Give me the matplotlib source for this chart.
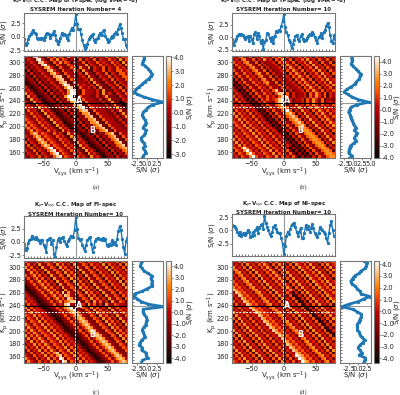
import numpy as np
import matplotlib
matplotlib.use("Agg")
import matplotlib.pyplot as plt
from matplotlib.ticker import MultipleLocator, FormatStrFormatter

W, H = 400, 395
VSYS_RANGE = (-80, 80)
KP_RANGE = (150, 310)

titles = [
    "K$_{\\rm p}$-V$_{\\rm sys}$ C.C. Map of H-spec (log VMR= -8)\nSYSREM Iteration Number= 4",
    "K$_{\\rm p}$-V$_{\\rm sys}$ C.C. Map of H-spec (log VMR= -8)\nSYSREM Iteration Number= 10",
    "K$_{\\rm p}$-V$_{\\rm sys}$ C.C. Map of FI-spec\nSYSREM Iteration Number= 10",
    "K$_{\\rm p}$-V$_{\\rm sys}$ C.C. Map of NI-spec\nSYSREM Iteration Number= 10",
]
captions = ["(a)", "(b)", "(c)", "(d)"]

# S/N slice at the Kp of the peak, Vsys from -80 to 80 (estimated by eye, 2 km/s spacing is approximate)
top_a = [-0.5,-1.5,-1.2,-0.5,0.2,0.5,0.9,1.2,0.8,0.5,-0.2,-0.5,-0.3,-0.4,-0.2,-0.6,0.0,0.6,0.7,0.5,-0.2,0.3,0.6,1.0,0.3,-0.6,-1.4,-0.8,-0.3,0.7,0.3,0.6,0.3,-0.3,-0.6,0.5,1.2,1.6,1.2,2.4,4.2,2.4,1.4,1.5,0.5,-0.6,-1.5,-2.3,-2.0,-1.3,-0.5,0.0,0.2,0.5,-0.6,-1.0,-0.5,-0.2,0.3,0.8,0.4,1.1,1.2,0.2,-0.5,-1.0,-0.8,-0.3,0.2,0.0,0.5,0.9,0.6,1.5,2.3,1.6,0.7,-0.5,-0.5,-1.6,-2.0]
top_b = [-0.3,-1.5,-0.8,-0.3,0.3,0.6,0.5,0.6,0.4,0.0,-0.3,0.0,0.2,-0.8,0.3,-0.3,-1.2,0.7,1.0,-0.3,0.8,0.2,-1.2,-0.5,-2.3,-1.0,-0.5,0.8,0.6,-0.1,-0.8,0.0,-1.2,0.3,1.2,1.0,1.5,1.3,2.2,3.2,4.6,2.0,1.0,0.5,-0.6,-1.0,-2.2,-1.4,-0.5,0.2,0.5,-0.3,-0.8,0.2,0.7,-0.3,-0.8,-0.5,-0.1,0.3,0.7,0.5,1.0,0.6,0.0,-0.6,-1.1,0.0,0.3,0.8,-0.1,1.0,1.5,2.2,2.9,2.0,0.5,-0.8,-1.2,0.5,-0.4]
top_c = [-0.3,-1.5,-1.2,-0.2,0.3,0.5,1.2,0.7,0.6,1.0,0.6,0.4,-0.2,0.3,0.4,-0.5,-1.0,-1.8,0.3,0.6,0.8,-0.3,0.3,-2.2,-2.8,-1.0,0.4,0.8,0.0,0.7,1.0,0.2,-0.3,-0.8,0.2,0.5,1.2,1.0,1.0,2.3,4.6,2.5,0.8,0.3,0.5,-0.5,-1.2,-1.6,-0.5,0.3,0.7,0.9,-0.3,-1.8,-1.0,0.2,0.6,0.8,0.6,0.6,0.3,0.8,0.4,0.5,-0.5,-0.8,-0.3,-0.5,0.3,-0.3,0.0,-0.5,0.6,2.0,2.9,2.2,0.6,-1.0,-2.2,0.2,0.8]
top_d = [1.0,0.8,0.6,0.2,-0.3,-0.8,-0.3,-1.0,-0.6,-0.4,-0.8,-0.5,0.1,-0.3,-1.2,-1.0,-0.3,-0.8,0.0,0.6,-0.4,0.5,1.0,1.2,0.3,2.7,1.5,0.7,0.0,-0.7,-1.0,-0.2,0.7,1.0,0.2,-0.3,-0.5,-0.4,-1.5,-2.5,-4.5,-3.0,-1.0,-0.2,-0.6,0.2,1.1,1.3,1.5,0.6,-0.3,-1.0,-0.2,0.5,-1.4,-1.5,-0.4,1.0,0.2,0.8,-0.2,0.4,1.2,0.4,-0.5,-0.8,-1.2,-0.5,0.6,0.3,0.0,-0.2,-0.6,-1.5,-2.3,-0.5,1.0,1.8,0.0,-1.0,-1.0]

# S/N slice at Vsys of the peak, Kp from 310 down to 150 (estimated by eye)
side_a = [-0.8,-0.7,-1.0,-1.2,-0.4,0.3,0.8,1.3,1.0,0.4,-0.5,-1.2,-2.0,-2.8,-3.3,-2.5,-0.8,1.4,4.1,1.5,0.3,-0.3,-1.0,-1.2,-1.0,-0.5,-0.2,-0.6,-1.0,-0.3,-0.4,-0.8,-1.5,-1.4,-0.8,-0.5,-1.0,-0.5,-0.3,-1.0,-1.2]
side_b = [-0.3,-0.4,-0.2,-0.5,0.0,0.8,1.5,2.2,2.0,1.8,1.0,0.5,-0.5,-1.8,-2.6,-1.5,-0.3,1.5,4.5,1.2,-0.6,-1.0,-1.3,-0.8,-0.7,-0.4,0.0,0.3,0.9,0.4,1.1,0.8,0.4,0.9,0.3,-0.7,-1.0,-1.2,-1.2,-0.2,-1.1]
side_c = [-1.3,-1.5,-1.7,-1.3,-0.8,0.3,1.3,1.0,1.4,1.2,1.3,0.0,-1.3,-3.2,-3.3,-2.5,-1.5,0.3,4.3,-1.0,-1.0,-0.8,-0.2,0.0,-0.2,-0.3,-0.8,-1.2,-1.0,-0.7,-0.5,-1.3,-1.8,-2.0,-1.2,-1.4,-0.3,-0.2,0.2,-1.2,-1.5]
side_d = [1.5,2.4,2.2,2.0,0.8,0.2,-1.0,-1.5,-2.0,-1.8,-0.8,-0.2,0.5,0.8,3.2,1.5,0.0,-2.5,-4.5,-1.5,-0.2,0.9,0.8,0.5,0.2,-0.3,-0.2,-0.2,0.3,0.5,1.0,1.8,1.3,0.5,0.0,0.5,1.0,0.3,2.0,1.8,1.5]

# Kp-Vsys maps, hand-typed, 0 = darkest ... 9 = brightest, top row is Kp 310.
# Only the main bright and dark streaks were placed from the picture. The remaining
# cells are hand-typed diagonal texture imitating the look, NOT values read cell by cell.
map_a = [
"543895326473652743625436254364527365",
"354389532647365244362543625436452736",
"435438853264736524436254364543645273",
"243543895326433652443725436454364527",
"524354378532643365274372543625436452",
"152435437853264436527432543625436645",
"415243543785326443452743254362543664",
"341524354378832644345274325436254366",
"234152435437883264434527432543625436",
"123415243543788326444352743254362543",
"312341524354379832645435274325436254",
"531234152435437983264453527332543625",
"453123415243543798326444352733254362",
"745312341524354799326444352735325436",
"274531234152437993264443352473332543",
"327453123415243799326444335247333254",
"532745312341524378932644433524733025",
"453274531234152437893264443352473302",
"645327453123415243789326444335247330",
"364532745312341524378832644433524733",
"436453274531234152437783264443352473",
"543645327453123415243778326444335247",
"654364532745312341524377832644433524",
"465436453274531234152437783264443352",
"746543645327453123415243678326444335",
"574654364532745312341524367832644433",
"357465436453274531234152436783264443",
"436874654364532745312341524367832644",
"543687465436453274531234152436783264",
"254368746543645327453123415243678326",
"625436874654364532745312341524367832",
"362543687465436453274531234152436783",
"436254368946543645327453123415243678",
"543625436894654364532745312341524367",
"354362543689465436453274531234152436",
"435436254368946543645327453123415243",
]
map_b = [
"536743625374526475362546374526436254",
"453674362537452647536254637452643625",
"645367436253445264753625463745264362",
"364536743625344526475362546374526436",
"436453674362534452647536254637452643",
"643645367436253445264753625463745264",
"264364536743625344526475362546374526",
"526436453674362534452647536254637452",
"152643645367436253445264753625463745",
"315264364536743625344526475362546374",
"131526436453644362534452647536254637",
"413152643645364436253445264753625463",
"541315264364536843625344526475362546",
"354131526436453688362534452647536254",
"635413152643645368962534452647536254",
"363541315264645689625344526475362443",
"536354131526443689625344526475362454",
"453635413152643679625374526475364536",
"645363541315264367962537452647536453",
"364536354131526436796253745264753645",
"736453635413152643678625374526475364",
"473645363541315264367862537452647536",
"547364536354131526436786253745264753",
"654736453635413152643678625374526475",
"365473645363541315264367862537452647",
"536547364536354131526436776253745264",
"453654736453635413152643677625374526",
"645365473645363541315264367762537452",
"364536547364536354131526436776253745",
"736453654736453635413152643677625374",
"473645365473645363541315264367762537",
"547364536547364536354131526436776253",
"654796453654736453631413152643677625",
"365479645365473645363141315264367762",
"536547964536547364536314131526436776",
"453654796453654736453631413152643677",
]
map_c = [
"635274365274635274365264537264536274",
"463527436527463527436526453726453627",
"746352743652746352743652645372645362",
"474635274365274635274365264537264536",
"347463527436527463527436526453726453",
"635746352743652746352743652645372645",
"463574635274365274635274365264537264",
"346357463527436527463527436526453726",
"234635746352743652746352743652645372",
"123463574635274365274635274365264537",
"212346357463327436527463527436526453",
"421234635746383743652746352743652645",
"542123463574638743365274635274365264",
"454212346357463874336527463527436526",
"645421234635746788433652746352743652",
"364542123463548943365274635274365443",
"736454212346357894336527463527436454",
"473645421234635789433652746352743645",
"547364542123463578743365274635274364",
"654736454212346357874336527463527436",
"365473645421234635787433652746352743",
"536547364542123463578743365274635274",
"753654736454212346357874336527463527",
"475365473645421234635787433652746352",
"647536547364542123463578743365274635",
"364753654736454212346357874336527463",
"736475365473645421234635787433652746",
"473647536547364542123463578743365274",
"547364753654736454212346357874336527",
"354736475365473645421234635787433652",
"635473647536547364542123463578743365",
"363547364753654736454212346357874336",
"436354736478365473645421234635787433",
"543635473647836547364542123463578743",
"754363547364983654736454212346357874",
"475436354736498365473645421234635787",
]
map_d = [
"536274536475263745362754637452637456",
"453627453647526374536275463745263745",
"745362745364752637453627546374526374",
"674536274536475263745362754637452637",
"367453627453647526374536275463745263",
"536745362745364752637453627546374526",
"453674536274536475263745362754637452",
"645367453627453647526374536275463745",
"564536745362745364752637453627546374",
"756453674536274536475263745362754637",
"875645367453627453647526374536275463",
"487564536745362745364252637453627546",
"548756453674536274536125263745362754",
"354875645367453627453612526374536275",
"635487564536745362745361252637453627",
"363548756453674536274536125263745362",
"536354875645367453627453612526374536",
"453635487564536745362745361252637453",
"745363548756453674536274536125263745",
"374536354875645367453627453612526374",
"637453635487564536745362745361252637",
"263745363548756453674536274536125263",
"526374536354875645367453627453612526",
"452637453635487564536745362745361252",
"745263745363548756453674536274536125",
"274526374536354875645367453627453612",
"627452637453635487564536745362745361",
"362745263745363548756453674536274536",
"536274526374536354875645367453627453",
"453627452637453635487564536745362745",
"745362745263745363548756453674536274",
"374536274526374536354875645367453627",
"637453627452637453635487564536745362",
"463745362745263745363598756453674536",
"546374536274526374536359875645367453",
"654637453627452637453635987564536745",
]

# S/N ranges
cbar_limits = [(-3.3, 4.1), (-4.05, 4.5), (-4.4, 4.5), (-4.4, 4.3)]
top_limits = [(-2.6, 4.5), (-2.7, 4.9), (-2.9, 4.8), (-4.7, 3.1)]
side_limits = [(-3.8, 4.2), (-3.7, 5.3), (-3.8, 4.2), (-4.9, 3.6)]
peak_kp = [236, 236, 238.5, 239]
dash_kp = [230.5, 230, 230, 230]
peak_v = [-2.5, -1.5, -2, -1.5]
label_a = [(4.6, 240), (4.6, 240), (4.6, 240), (4.6, 240)]
label_b = [(25, 194), (25, 194), (25, 195), (25, 195)]
tops = [top_a, top_b, top_c, top_d]
sides = [side_a, side_b, side_c, side_d]
maps = [map_a, map_b, map_c, map_d]

# pixel boxes: top panel, map, side panel, colour bar
dx = [0, 208, 0, 208]
top_y = [(12.7, 50.7), (12.7, 51), (216.3, 257.5), (214, 255.5)]
main_y = [(56, 158.5), (56, 158.5), (260.7, 363), (260.7, 363)]
title_y = [12.3, 12.3, 216.5, 215.5]
cap_y = [187.5, 187.5, 392, 392]
cbar_label_x = [190, 397, 190, 397]

fig = plt.figure(figsize=(W / 100, H / 100), dpi=100)
SP = "#777777"
BLUE = "#1f77b4"
FS = 4.8
LFS = 5.0


def box(x0, y0, x1, y1):
    return fig.add_axes([x0 / W, 1 - y1 / H, (x1 - x0) / W, (y1 - y0) / H])


def dress(ax):
    for s in ax.spines.values():
        s.set_color(SP)
        s.set_linewidth(0.8)
    ax.tick_params(labelsize=FS, length=1.5, width=0.4, pad=0.6, color="#333333", labelcolor="#222222")


def ylabel_at(ax, text, x_px, x0, x1):
    ax.set_ylabel(text, fontsize=LFS, color="#222222", va="center")
    ax.yaxis.set_label_coords((x_px - x0) / (x1 - x0), 0.5)


def xlabel_at(ax, text, dy_px, y0, y1):
    ax.set_xlabel(text, fontsize=LFS, color="#222222", va="center")
    ax.xaxis.set_label_coords(0.5, -dy_px / (y1 - y0))


for i in range(4):
    d = dx[i]
    t0, t1 = top_y[i]
    m0, m1 = main_y[i]
    vmin, vmax = cbar_limits[i]
    lx0, lx1 = 24.3 + d, 127.3 + d

    # top slice
    ax = box(lx0, t0, lx1, t1)
    y = np.array(tops[i])
    x = np.linspace(VSYS_RANGE[0], VSYS_RANGE[1], len(y))
    ax.axvline(0, color="#999999", lw=0.8)
    ax.plot(x, y, "-o", color=BLUE, lw=1.0, ms=2.4, mew=0)
    ax.set_xlim(*VSYS_RANGE)
    ax.set_ylim(*top_limits[i])
    ax.yaxis.set_major_locator(MultipleLocator(2.5))
    ax.yaxis.set_major_formatter(FormatStrFormatter("%.1f"))
    ax.xaxis.set_minor_locator(MultipleLocator(5))
    ax.set_xticks([-50, 0, 50])
    ax.set_xticklabels([])
    dress(ax)
    ax.tick_params(axis="x", which="both", direction="in", length=1.2, width=0.4)
    ylabel_at(ax, "S/N ($\\sigma$)", 4 + d, lx0, lx1)
    fig.text((75.8 + d) / W, 1 - title_y[i] / H, titles[i], ha="center", va="bottom",
             fontsize=4.0, fontweight="bold", linespacing=1.05, color="#222222")

    # map
    ax = box(lx0, m0, lx1, m1)
    rows = maps[i]
    n_cols = min(len(r) for r in rows)
    grid = np.array([[int(c) for c in row[:n_cols]] for row in rows], dtype=float)
    data = vmin + (vmax - vmin) * grid / 9.0
    im = ax.imshow(data, cmap="gist_heat", vmin=vmin, vmax=vmax, aspect="auto",
                   extent=[*VSYS_RANGE, *KP_RANGE], interpolation="nearest")
    ax.axvline(0, color="black", lw=0.7)
    ax.axhline(peak_kp[i], color="black", lw=0.8)
    ax.axvline(peak_v[i], color="white", lw=0.7, ls=(0, (2, 1.5)))
    ax.axhline(dash_kp[i], color="white", lw=0.7, ls=(0, (2, 1.5)))
    ax.text(*label_a[i], "A", color="white", fontsize=5.8, fontweight="bold", ha="center", va="center")
    ax.text(*label_b[i], "B", color="white", fontsize=5.8, fontweight="bold", ha="center", va="center")
    ax.set_xlim(*VSYS_RANGE)
    ax.set_ylim(*KP_RANGE)
    ax.set_xticks([-50, 0, 50])
    ax.set_yticks(range(160, 301, 20))
    dress(ax)
    xlabel_at(ax, "V$_{\\rm sys}$ (km s$^{-1}$)", 13.5, m0, m1)
    ylabel_at(ax, "K$_{\\rm p}$ (km s$^{-1}$)", 4.5 + d, lx0, lx1)

    # side slice
    ax = box(132.3 + d, m0, 163.3 + d, m1)
    y = np.array(sides[i])
    kp = np.linspace(KP_RANGE[1], KP_RANGE[0], len(y))
    ax.axhline(peak_kp[i], color="#999999", lw=0.8)
    ax.plot(y, kp, "-o", color=BLUE, lw=2.0, ms=2.4, mew=0)
    ax.set_xlim(*side_limits[i])
    ax.set_ylim(*KP_RANGE)
    ax.xaxis.set_major_locator(MultipleLocator(2.5))
    ax.xaxis.set_major_formatter(FormatStrFormatter("%.1f"))
    ax.yaxis.set_minor_locator(MultipleLocator(5))
    ax.set_yticks(range(160, 301, 20))
    ax.set_yticklabels([])
    dress(ax)
    ax.tick_params(axis="y", which="both", direction="in", length=1.2, width=0.4)
    xlabel_at(ax, "S/N ($\\sigma$)", 12, m0, m1)

    # colour bar
    cx0, cx1 = 165.6 + d, 171.2 + d
    cax = box(cx0, m0, cx1, m1)
    cb = fig.colorbar(im, cax=cax)
    cb.set_ticks(np.arange(np.ceil(vmin), vmax + 0.01, 1.0))
    cb.ax.yaxis.set_major_formatter(FormatStrFormatter("%.1f"))
    dress(cax)
    cb.outline.set_edgecolor(SP)
    cb.outline.set_linewidth(0.8)
    cb.set_label("S/N ($\\sigma$)", fontsize=LFS, color="#222222", va="center")
    cax.yaxis.set_label_coords((cbar_label_x[i] - cx0) / (cx1 - cx0), 0.5)

    fig.text((96 + d) / W, 1 - cap_y[i] / H, captions[i], ha="center", va="center",
             fontsize=4.8, family="Liberation Serif", color="#333333")

fig.savefig("out.png", dpi=100)
